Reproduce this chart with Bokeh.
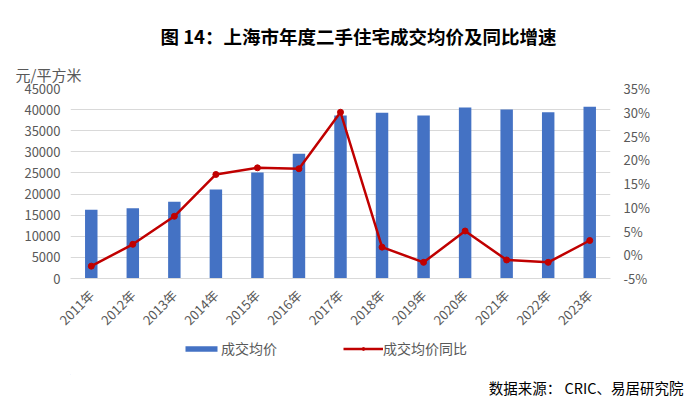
import math
from bokeh.plotting import figure
from bokeh.layouts import column
from bokeh.models import (FactorRange, Range1d, LinearAxis, SingleIntervalTicker,
                          PrintfTickFormatter, Legend, LegendItem, Title)
from bokeh.embed import file_html
from bokeh.resources import INLINE

years = ["2011年", "2012年", "2013年", "2014年", "2015年", "2016年", "2017年",
         "2018年", "2019年", "2020年", "2021年", "2022年", "2023年"]
avg_price = [16300, 16650, 18160, 21080, 25100, 29530, 38600,
             39240, 38600, 40500, 40030, 39400, 40660]
yoy_pct = [-2.4, 2.2, 8.1, 16.9, 18.3, 18.1, 30.0, 1.6, -1.6, 5.0, -1.1, -1.6, 3.0]

FONT = "Noto Sans CJK SC"
GRAY = "#595959"
BAR = "#4472C4"
RED = "#C00000"

p = figure(frame_width=540, frame_height=190, x_range=FactorRange(factors=years, range_padding=0),
           y_range=Range1d(0, 45000), output_backend="svg", toolbar_location=None,
           min_border_left=70, min_border_right=74, min_border_top=88, min_border_bottom=60)
p.extra_y_ranges = {"pct": Range1d(-5, 35)}
p.outline_line_color = None

p.vbar(x=years, top=avg_price, width=0.3, fill_color=BAR, line_color=None)
p.line(x=years, y=yoy_pct, y_range_name="pct", line_color=RED, line_width=2.5)
p.scatter(x=years, y=yoy_pct, y_range_name="pct", size=6, fill_color=RED, line_color=RED)

p.xgrid.grid_line_color = None
p.ygrid.grid_line_color = "#d9d9d9"
p.ygrid.grid_line_width = 1

p.yaxis.ticker = SingleIntervalTicker(interval=5000, num_minor_ticks=0)
p.yaxis.axis_line_color = None
p.yaxis.major_tick_line_color = None
p.yaxis.minor_tick_line_color = None
p.yaxis.major_tick_out = 0
p.yaxis.major_label_standoff = 10
p.yaxis.major_label_text_font = FONT
p.yaxis.major_label_text_font_size = "13px"
p.yaxis.major_label_text_color = GRAY

p.xaxis.axis_line_color = "#d9d9d9"
p.xaxis.major_tick_line_color = None
p.xaxis.major_tick_out = 0
p.xaxis.major_label_orientation = math.pi / 4
p.xaxis.major_label_standoff = 14
p.xaxis.major_label_text_font = FONT
p.xaxis.major_label_text_font_size = "13px"
p.xaxis.major_label_text_color = GRAY

ra = LinearAxis(y_range_name="pct", ticker=SingleIntervalTicker(interval=5, num_minor_ticks=0),
                formatter=PrintfTickFormatter(format="%d%%"))
ra.axis_line_color = None
ra.major_tick_line_color = None
ra.minor_tick_line_color = None
ra.major_tick_out = 0
ra.major_label_standoff = 13
ra.major_label_text_font = FONT
ra.major_label_text_font_size = "13px"
ra.major_label_text_color = GRAY
p.add_layout(ra, "right")

# above: unit label (closest to frame), then main title
unit = Title(text="元/平方米", align="left", offset=-55, text_font=FONT,
             text_font_size="15px", text_font_style="normal", text_color=GRAY, standoff=8)
p.add_layout(unit, "above")
main = Title(text="图 14：上海市年度二手住宅成交均价及同比增速", align="left", offset=90,
             text_font=FONT, text_font_size="18.5px", text_font_style="bold",
             text_color="black", standoff=18)
p.add_layout(main, "above")

# bottom strip: legend (in frame) and source note (below panel)
p2 = figure(frame_width=540, frame_height=36, x_range=Range1d(0, 1), y_range=Range1d(0, 1),
            output_backend="svg", toolbar_location=None,
            min_border_left=70, min_border_right=74, min_border_top=0, min_border_bottom=0,
            x_axis_type=None, y_axis_type=None)
p2.outline_line_color = None
p2.grid.visible = False
# legend-only glyphs, placed outside the visible range of this strip
lb = p2.vbar(x=[-5], top=[-5], width=0.1, fill_color=BAR, line_color=None)
ll = p2.line(x=[-5, -4], y=[-5, -5], line_color=RED, line_width=2.5)
lp = p2.scatter(x=[-5], y=[-5], size=6, fill_color=RED, line_color=RED)

legend = Legend(items=[LegendItem(label="成交均价", renderers=[lb]),
                       LegendItem(label="成交均价同比", renderers=[ll, lp])],
                orientation="horizontal", location=(111, 16), glyph_width=40, glyph_height=7,
                label_standoff=0, spacing=66, padding=0, margin=0, label_height=20,
                border_line_color=None, background_fill_alpha=0,
                label_text_font=FONT, label_text_font_size="14px", label_text_color=GRAY)
p2.add_layout(legend)

src = Title(text="数据来源： CRIC、易居研究院", align="right", offset=-73, text_font=FONT,
            text_font_size="14.5px", text_font_style="normal", text_color="black", standoff=0)
p2.add_layout(src, "below")

layout = column(p, p2, spacing=0)
open("out.html", "w").write(file_html(layout, INLINE))
